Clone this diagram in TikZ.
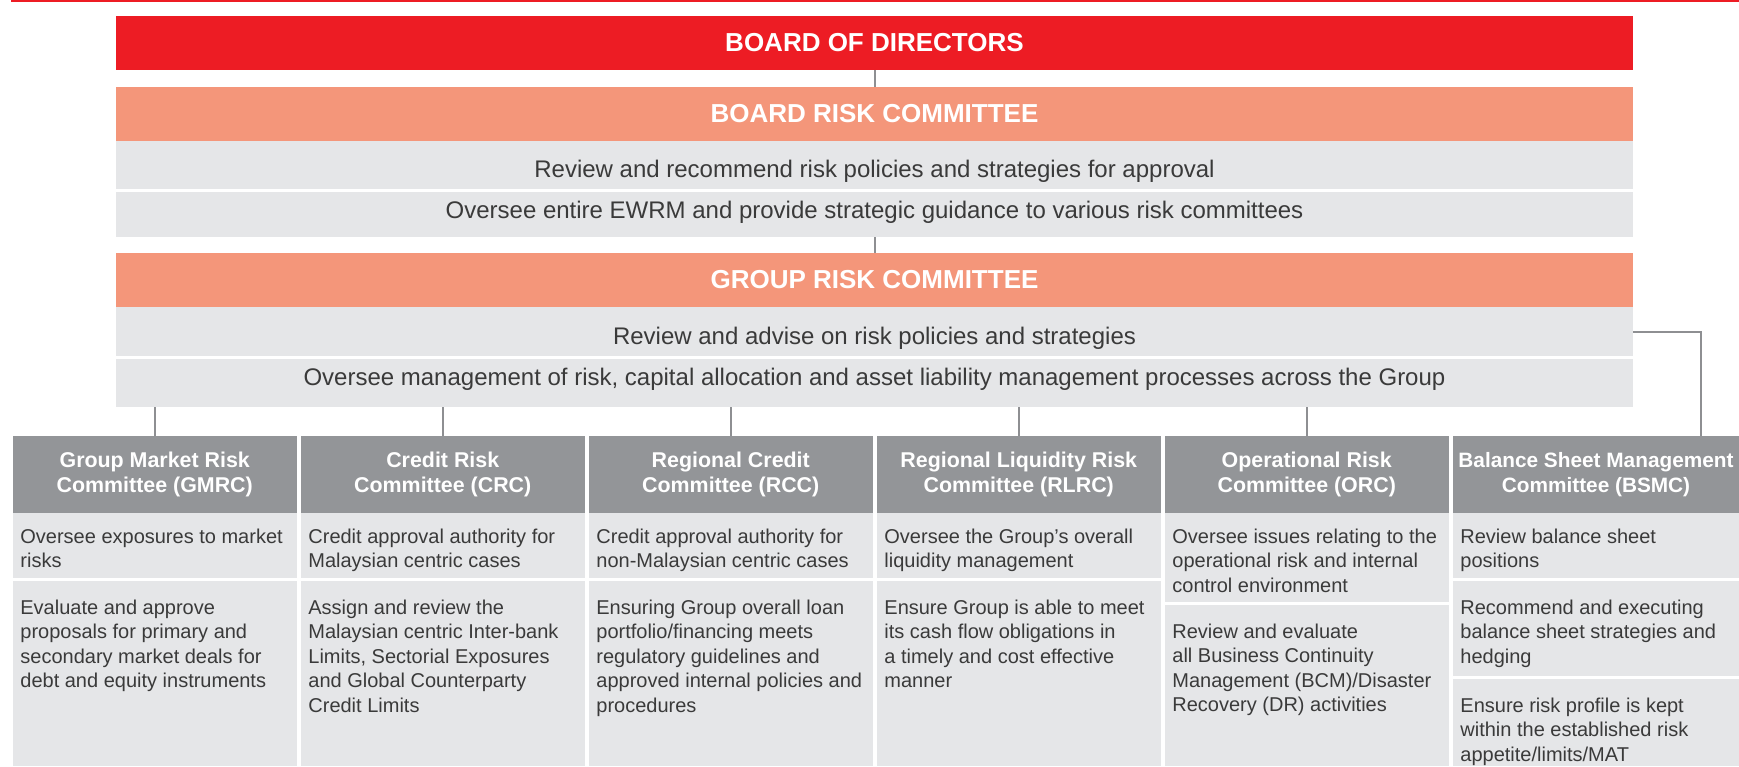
\documentclass[tikz,border=0pt]{standalone}
\usepackage{fontspec}
\setmainfont{Liberation Sans}
\definecolor{bodred}{HTML}{ED1C24}
\definecolor{salmon}{HTML}{F4967A}
\definecolor{rowgray}{HTML}{E5E6E8}
\definecolor{hdrgray}{HTML}{939598}
\definecolor{linegray}{HTML}{8E8F92}
\definecolor{txt}{HTML}{3A3A3A}
\newcommand\boxnode[7]{\node[#6, anchor=north west, minimum width=#4*0.5pt, minimum height=#5*0.5pt] (#1) at (#2,#3) {#7};}
\tikzset{
  bar/.style={inner sep=0pt, outer sep=0pt, draw=none},
  redbar/.style={bar, fill=bodred, text=white, font=\fontsize{13}{15}\selectfont\bfseries},
  salbar/.style={bar, fill=salmon, text=white, font=\fontsize{13}{15}\selectfont\bfseries},
  rowbar/.style={bar, fill=rowgray},
  rowtext/.style={inner sep=0pt, anchor=base, text=txt, font=\fontsize{12}{14}\selectfont},
  colhead/.style={bar, fill=hdrgray, text=white, align=center, font=\fontsize{10.7}{12.5}\selectfont\bfseries},
  cellbox/.style={bar, fill=rowgray},
  celltext/.style={inner sep=0pt, anchor=north west, align=left, text=txt, font=\fontsize{10}{12.2}\selectfont},
  conn/.style={draw=linegray, line width=1pt},
}
\begin{document}
\begin{tikzpicture}[x=0.5pt, y=-0.5pt]
\useasboundingbox (0,0) rectangle (1739,766);
% top red rule
\draw[bodred, line width=0.8pt] (11,1) -- (1739,1);
% board of directors
\boxnode{bod}{116}{16}{1517}{54}{redbar}{BOARD OF DIRECTORS}
% board risk committee
\boxnode{brc}{116}{87}{1517}{54}{salbar}{BOARD RISK COMMITTEE}
\boxnode{brcA}{116}{141}{1517}{48}{rowbar}{}
\boxnode{brcB}{116}{192}{1517}{45}{rowbar}{}
\node[rowtext] (brcAt) at (874.5,177) {Review and recommend risk policies and strategies for approval};
\node[rowtext] (brcBt) at (874.5,218) {Oversee entire EWRM and provide strategic guidance to various risk committees};
% group risk committee
\boxnode{grc}{116}{253}{1517}{54}{salbar}{GROUP RISK COMMITTEE}
\boxnode{grcA}{116}{307}{1517}{49}{rowbar}{}
\boxnode{grcB}{116}{359}{1517}{48}{rowbar}{}
\node[rowtext] (grcAt) at (874.5,344) {Review and advise on risk policies and strategies};
\node[rowtext] (grcBt) at (874.5,385) {Oversee management of risk, capital allocation and asset liability management processes across the Group};
% column headers
\boxnode{h1}{13}{436}{283.5}{77}{colhead}{Group Market Risk\\Committee (GMRC)}
\boxnode{h2}{301}{436}{283.5}{77}{colhead}{Credit Risk\\Committee (CRC)}
\boxnode{h3}{589}{436}{283.5}{77}{colhead}{Regional Credit\\Committee (RCC)}
\boxnode{h4}{877}{436}{283.5}{77}{colhead}{Regional Liquidity Risk\\Committee (RLRC)}
\boxnode{h5}{1165}{436}{283.5}{77}{colhead}{Operational Risk\\Committee (ORC)}
\boxnode{h6}{1453}{436}{286}{77}{colhead, font=\fontsize{10.4}{12.5}\selectfont\bfseries}{Balance Sheet Management\\Committee (BSMC)}
% column cells
\boxnode{c1a}{13}{513}{283.5}{65}{cellbox}{}
\boxnode{c1b}{13}{581}{283.5}{185}{cellbox}{}
\boxnode{c2a}{301}{513}{283.5}{65}{cellbox}{}
\boxnode{c2b}{301}{581}{283.5}{185}{cellbox}{}
\boxnode{c3a}{589}{513}{283.5}{65}{cellbox}{}
\boxnode{c3b}{589}{581}{283.5}{185}{cellbox}{}
\boxnode{c4a}{877}{513}{283.5}{65}{cellbox}{}
\boxnode{c4b}{877}{581}{283.5}{185}{cellbox}{}
\boxnode{c5a}{1165}{513}{283.5}{89}{cellbox}{}
\boxnode{c5b}{1165}{605}{283.5}{161}{cellbox}{}
\boxnode{c6a}{1453}{513}{286}{65}{cellbox}{}
\boxnode{c6b}{1453}{581}{286}{95}{cellbox}{}
\boxnode{c6c}{1453}{679}{286}{87}{cellbox}{}
% cell texts
\node[celltext] (t1a) at (20,526) {\strut Oversee exposures to market\\risks};
\node[celltext] (t1b) at (20,597) {\strut Evaluate and approve\\proposals for primary and\\secondary market deals for\\debt and equity instruments};
\node[celltext] (t2a) at (308,526) {\strut Credit approval authority for\\Malaysian centric cases};
\node[celltext] (t2b) at (308,597) {\strut Assign and review the\\Malaysian centric Inter-bank\\Limits, Sectorial Exposures\\and Global Counterparty\\Credit Limits};
\node[celltext] (t3a) at (596,526) {\strut Credit approval authority for\\non-Malaysian centric cases};
\node[celltext] (t3b) at (596,597) {\strut Ensuring Group overall loan\\portfolio/financing meets\\regulatory guidelines and\\approved internal policies and\\procedures};
\node[celltext] (t4a) at (884,526) {\strut Oversee the Group’s overall\\liquidity management};
\node[celltext] (t4b) at (884,597) {\strut Ensure Group is able to meet\\its cash flow obligations in\\a timely and cost effective\\manner};
\node[celltext] (t5a) at (1172,526) {\strut Oversee issues relating to the\\operational risk and internal\\control environment};
\node[celltext] (t5b) at (1172,621) {\strut Review and evaluate\\all Business Continuity\\Management (BCM)/Disaster\\Recovery (DR) activities};
\node[celltext] (t6a) at (1460,526) {\strut Review balance sheet\\positions};
\node[celltext] (t6b) at (1460,597) {\strut Recommend and executing\\balance sheet strategies and\\hedging};
\node[celltext] (t6c) at (1460,695) {\strut Ensure risk profile is kept\\within the established risk\\appetite/limits/MAT};
% connectors
\draw[conn] (bod.south) -- (brc.north);
\draw[conn] (brcB.south) -- (grc.north);
\foreach \h in {h1,h2,h3,h4,h5}{
  \draw[conn] (\h.north) -- (\h.north |- grcB.south);
}
\coordinate (bsmcin) at (1701,436);
\draw[conn] (grcA.east) -| (bsmcin);
\end{tikzpicture}
\end{document}
